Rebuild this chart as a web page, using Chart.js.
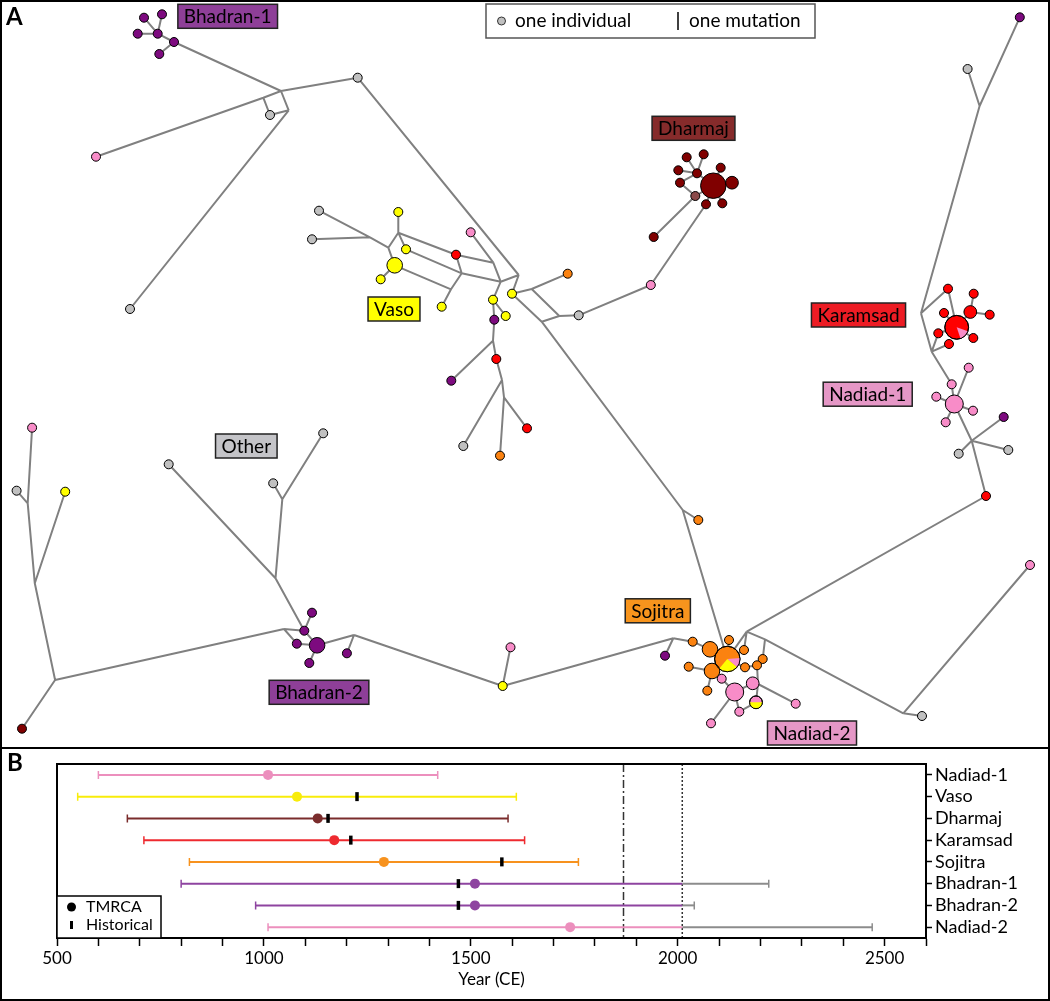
<!DOCTYPE html>
<html>
<head>
<meta charset="utf-8">
<script src="https://cdn.jsdelivr.net/npm/chart.js@4.4.0/dist/chart.umd.min.js"></script>
<style>
html, body { margin: 0; padding: 0; background: #fff; }
#wrap { position: relative; width: 1050px; height: 1001px; overflow: hidden; }
#netA { position: absolute; left: 0; top: 0; }
#timeB { position: absolute; left: 0; top: 750px; }
#divider { position: absolute; left: 0; top: 747px; width: 1050px; height: 2px; background: #000; }
#frame { position: absolute; left: 0; top: 0; width: 1050px; height: 1001px; box-sizing: border-box; border: 2px solid #000; pointer-events: none; }
</style>
</head>
<body>
<div id="wrap">
  <canvas id="netA" width="1050" height="748"></canvas>
  <canvas id="timeB" width="1050" height="249"></canvas>
  <div id="divider"></div>
  <div id="frame"></div>
</div>
<script>
Chart.defaults.font.family = 'Lato, "Liberation Sans", sans-serif';
Chart.defaults.color = '#000';

// ---------- panel A: haplotype network ----------
// id, x, y, population, individuals
var nodes = [
  ['b1a',144,17.7,'B',1], ['b1b',162,14.3,'B',1], ['b1c',137.7,33.7,'B',1], ['b1d',157.7,33.7,'B',1],
  ['b1e',174,42,'B',1], ['b1f',159.3,54,'B',1],
  ['g1',357.7,77.7,'O',1], ['g2',270,115,'O',1], ['p1',96,156.7,'N',1], ['g3',130,309,'O',1],
  ['g4',319,210.7,'O',1], ['g5',312,239.3,'O',1], ['v1',398.3,212,'V',1], ['v2',406,249.3,'V',1],
  ['vB',394.7,265.3,'V',3], ['v3',380.7,279.3,'V',1], ['n1',470.7,232.3,'N',1], ['k1',456,254.7,'K',1],
  ['v4',441.7,306.7,'V',1], ['v5',493,299.7,'V',1], ['v6',512,293.7,'V',1], ['v7',505.7,316,'V',1],
  ['bp1',494.3,319.7,'B',1], ['k2',496.3,359,'K',1], ['bp2',451.3,380.7,'B',1], ['k3',527,428.3,'K',1],
  ['g6',463.3,446,'O',1], ['s1',500,455.7,'S',1], ['s2',567.7,273.7,'S',1], ['g7',578.7,315.3,'O',1],
  ['p2',650.8,285,'N',1],
  ['dB',713.3,185.7,'D',8], ['d1',686.7,157.3,'D',1], ['d2',703.7,154.3,'D',1], ['d3',720.7,167.7,'D',1],
  ['d4',678.3,170.3,'D',1], ['d5',697,173.3,'D',1], ['d6',680,182.7,'D',1], ['d7',732,182.7,'D',2],
  ['d8',695.3,196,'X',1], ['d9',706,204.3,'D',1], ['d10',722.3,203.3,'D',1], ['d11',653.7,237,'D',1],
  ['bp3',1019.8,17.3,'B',1], ['g8',967.6,69,'O',1],
  ['kB',956.7,327.3,'K',7], ['k4',948,288.7,'K',1], ['k5',973.7,293.7,'K',1], ['k6',970.3,312,'K',2],
  ['k7',989.7,314.7,'K',1], ['k8',944,313,'K',1], ['k9',938.3,333.3,'K',1], ['k10',949,344,'K',1],
  ['k11',973.3,338,'K',1],
  ['nB',954.3,404,'N',4], ['n2',951.7,384.3,'N',1], ['n3',968.7,367.7,'N',1], ['n4',936.3,396.7,'N',1],
  ['n5',973,410.7,'N',1], ['n6',945.7,422.3,'N',1], ['bp4',1003.7,417,'B',1], ['g9',958.7,453.7,'O',1],
  ['g10',1008.3,450,'O',1], ['k12',986,496,'K',1],
  ['s3',698.3,520,'S',1], ['sB',727.3,659,'S',8], ['bp5',665,655.7,'B',1], ['s4',692.7,641.7,'S',1],
  ['s5',710,649.3,'S',3], ['s6',729,640,'S',1], ['s7',744,650,'S',1], ['s8',762.7,659,'S',1],
  ['s9',688.7,666.7,'S',1], ['s10',712,671,'S',3], ['s11',745,667.3,'S',1], ['s12',757,665.3,'S',1],
  ['n7',721.7,678.7,'N',1], ['nB2',734.7,692,'N',4], ['n8',752.7,683.3,'N',2], ['s13',707.3,690.7,'S',1],
  ['nv',756,702.3,'N',2], ['n9',739.3,711.7,'N',1], ['n10',711,723.3,'N',1], ['n11',795.7,703.7,'N',1],
  ['g11',922,716,'O',1], ['n12',1030,565,'N',1],
  ['y2',502.7,686,'V',1], ['p3',510.5,647.3,'N',1],
  ['bB2',317.1,645.3,'B',3], ['bp6',312,612.7,'B',1], ['bp7',304.3,630.7,'B',1], ['bp8',296.8,643.7,'B',1],
  ['bp9',309.3,663,'B',1], ['bp10',346.9,653.3,'B',1],
  ['g13',168.7,464.3,'O',1], ['g14',273.2,483.3,'O',1], ['g15',323.2,433.3,'O',1],
  ['p4',32.1,427.7,'N',1], ['g12',16.6,490.7,'O',1], ['y3',65.2,491.7,'V',1], ['dr',22,728.7,'D',1]
];

// median vectors (unsampled branch points)
var junctions = [
  ['j1',281,91], ['j2',288.7,110.3], ['j3',263.3,97.7],
  ['ja',370,237.3], ['jb',388.3,247.7], ['jc',398.3,232.7], ['jd',451,289.3], ['je',461.7,273.3],
  ['jf',493.3,262.7], ['jg',500.7,281.7], ['jh',518.7,275], ['ji',531.7,289], ['jj',559.3,316],
  ['jk',541.7,321.7], ['jl',493,340.7], ['jm',502,380], ['jn',504,397.3],
  ['jq',979.6,106], ['K1',921,313.3], ['K2',931.7,351.7], ['N1',971.7,440.7],
  ['jo',682.7,510], ['S0',673.3,638.3], ['S1',746.7,631.7], ['S2',765,639.3], ['S3',903.3,713.3], ['S4',758,684],
  ['B1',354,635], ['L1',27.7,503.3], ['L2',34.8,583.3], ['L3',55.1,680], ['L4',284,629],
  ['O1',282.3,499.3], ['O2',275.5,578.3]
];

var edges = [
  ['b1a','b1d'], ['b1b','b1d'], ['b1c','b1d'], ['b1d','b1e'], ['b1f','b1e'], ['b1e','j1'], ['j1','g1'],
  ['j1','j2'], ['j1','j3'], ['j3','p1'], ['j3','g2'], ['g2','j2'], ['j2','g3'],
  ['g4','ja'], ['g5','ja'], ['ja','jb'], ['jb','vB'], ['jb','jc'], ['v1','jc'], ['jc','k1'], ['v2','jc'],
  ['v2','je'], ['v3','vB'], ['vB','jd'], ['jd','v4'], ['jd','je'], ['je','jg'], ['k1','je'], ['k1','jf'],
  ['jf','n1'], ['jf','jg'], ['jg','v5'], ['jg','jh'], ['jh','g1'], ['jh','v6'], ['v6','ji'], ['ji','s2'],
  ['ji','jj'], ['jj','g7'], ['v6','jk'], ['jk','jj'], ['v5','v7'], ['v5','bp1'], ['bp1','jl'], ['jl','k2'],
  ['jl','bp2'], ['k2','jm'], ['jm','g6'], ['jm','jn'], ['jn','s1'], ['jn','k3'],
  ['g7','p2'], ['p2','d9'], ['d9','dB'], ['d1','d5'], ['d2','d5'], ['d4','d5'], ['d6','d5'], ['d5','dB'],
  ['d6','d8'], ['d8','dB'], ['d8','d11'], ['d3','dB'], ['d7','dB'], ['d10','dB'],
  ['bp3','jq'], ['g8','jq'], ['jq','K1'],
  ['K1','k4'], ['K1','K2'], ['k4','kB'], ['k5','k6'], ['k6','kB'], ['k6','k7'], ['k8','kB'], ['k9','kB'],
  ['k9','K2'], ['k10','K2'], ['k11','kB'],
  ['K2','n2'], ['n2','nB'], ['n3','nB'], ['n4','nB'], ['n5','nB'], ['n6','nB'], ['nB','N1'], ['N1','bp4'],
  ['N1','g9'], ['N1','g10'], ['N1','k12'], ['k12','S1'],
  ['jk','jo'], ['jo','s3'], ['jo','sB'],
  ['S0','bp5'], ['S0','s4'], ['s4','s5'], ['s5','sB'], ['s6','sB'], ['S1','sB'], ['S1','s7'], ['s7','sB'],
  ['S1','S2'], ['S2','S3'], ['S3','g11'], ['S3','n12'], ['S2','s8'], ['s8','s12'], ['s12','s11'], ['s11','sB'],
  ['s9','s10'], ['s10','sB'], ['s10','s13'], ['n7','s10'], ['n7','nB2'], ['nB2','n10'], ['nB2','n9'],
  ['n9','nv'], ['n8','nB2'], ['s12','S4'], ['S4','nv'], ['S4','n11'],
  ['y2','S0'], ['p3','y2'], ['B1','y2'], ['bB2','B1'], ['bp10','B1'],
  ['p4','L1'], ['g12','L1'], ['L1','L2'], ['y3','L2'], ['L2','L3'], ['L3','dr'], ['L3','L4'], ['L4','bp7'],
  ['L4','bp8'], ['O2','bp7'], ['bp6','bp7'], ['bp7','bB2'], ['bp8','bB2'], ['bp9','bB2'],
  ['g13','O2'], ['g14','O1'], ['g15','O1'], ['O1','O2']
];

// shared haplotypes: id, start angle (deg), extra slices [population, individuals]
var mixed = [
  ['kB', 20, [['N',1]]],
  ['sB', -5, [['N',1], ['V',2]]],
  ['nv', 0, [['V',1]]]
];

var groupLabels = [
  ['Bhadran-1',227.7,16.3,'B'], ['Dharmaj',693.5,128.3,'D'], ['Vaso',394,309,'V'],
  ['Karamsad',858.5,315,'K'], ['Nadiad-1',867.7,394.2,'N'], ['Other',246.3,446,'O'],
  ['Sojitra',657.8,610.8,'S'], ['Bhadran-2',319,692.3,'B'], ['Nadiad-2',812,733,'N']
];

var popColor = { O:'#c0c0c0', B:'#7d0a7f', V:'#ffff00', D:'#800000', K:'#ff0000', S:'#fb8210', N:'#f88cc8', X:'#8b4a4a' };
var boxColor = { O:'#c4c4c8', B:'#8e3f98', V:'#ffff00', D:'#862b2b', K:'#ed1c24', S:'#f7941d', N:'#e597c6' };

function radius(n) { return 4.5 * Math.sqrt(n); }

var where = {};
nodes.forEach(function (n) { where[n[0]] = { x: n[1], y: n[2] }; });
junctions.forEach(function (j) { where[j[0]] = { x: j[1], y: j[2] }; });

var linkData = [];
edges.forEach(function (e) {
  var a = where[e[0]], b = where[e[1]];
  linkData.push({ x: a.x, y: a.y }, { x: b.x, y: b.y }, { x: b.x, y: null });
});

var piePlugin = {
  id: 'pies',
  afterDatasetsDraw: function (chart) {
    var ctx = chart.ctx, sx = chart.scales.x, sy = chart.scales.y;
    mixed.forEach(function (m) {
      var n = nodes.find(function (d) { return d[0] === m[0]; });
      var cx = sx.getPixelForValue(n[1]), cy = sy.getPixelForValue(n[2]), r = radius(n[4]);
      var a = m[1] * Math.PI / 180;
      ctx.save();
      m[2].forEach(function (s) {
        var b = a + 2 * Math.PI * s[1] / n[4];
        ctx.beginPath(); ctx.moveTo(cx, cy); ctx.arc(cx, cy, r, a, b); ctx.closePath();
        ctx.fillStyle = popColor[s[0]]; ctx.fill();
        a = b;
      });
      ctx.beginPath(); ctx.arc(cx, cy, r, 0, 2 * Math.PI);
      ctx.lineWidth = 1; ctx.strokeStyle = '#000'; ctx.stroke();
      ctx.restore();
    });
  }
};

var labelPlugin = {
  id: 'groupLabels',
  afterDraw: function (chart) {
    var ctx = chart.ctx, sx = chart.scales.x, sy = chart.scales.y;
    ctx.save();
    ctx.font = '19px Lato, "Liberation Sans", sans-serif';
    ctx.textAlign = 'center'; ctx.textBaseline = 'middle';
    groupLabels.forEach(function (l) {
      var cx = sx.getPixelForValue(l[1]), cy = sy.getPixelForValue(l[2]);
      var w = ctx.measureText(l[0]).width + 12, h = 24;
      ctx.fillStyle = boxColor[l[3]];
      ctx.fillRect(cx - w / 2, cy - h / 2, w, h);
      ctx.lineWidth = 1.5; ctx.strokeStyle = '#222';
      ctx.strokeRect(cx - w / 2, cy - h / 2, w, h);
      ctx.fillStyle = '#000';
      ctx.fillText(l[0], cx, cy + 1);
    });
    // key box
    ctx.fillStyle = '#fff';
    ctx.fillRect(486, 4, 329, 34);
    ctx.lineWidth = 1.5; ctx.strokeStyle = '#555';
    ctx.strokeRect(486, 4, 329, 34);
    ctx.beginPath(); ctx.arc(501.5, 21, 4, 0, 2 * Math.PI);
    ctx.fillStyle = popColor.O; ctx.fill(); ctx.lineWidth = 1; ctx.strokeStyle = '#333'; ctx.stroke();
    ctx.beginPath(); ctx.moveTo(678, 12); ctx.lineTo(678, 30); ctx.lineWidth = 1.5; ctx.strokeStyle = '#000'; ctx.stroke();
    ctx.fillStyle = '#000'; ctx.textAlign = 'left';
    ctx.font = '19px Lato, "Liberation Sans", sans-serif';
    ctx.fillText('one individual', 515, 21);
    ctx.fillText('one mutation', 689, 21);
    ctx.font = 'bold 24px Lato, "Liberation Sans", sans-serif';
    ctx.fillText('A', 6, 17);
    ctx.restore();
  }
};

new Chart(document.getElementById('netA'), {
  type: 'scatter',
  data: {
    datasets: [
      {
        label: 'haplotypes',
        order: 0,
        data: nodes.map(function (n) { return { x: n[1], y: n[2] }; }),
        pointRadius: nodes.map(function (n) { return radius(n[4]); }),
        pointBackgroundColor: nodes.map(function (n) { return popColor[n[3]]; }),
        pointBorderColor: '#000',
        pointBorderWidth: 1
      },
      {
        type: 'line',
        label: 'links',
        order: 1,
        data: linkData,
        borderColor: '#808080',
        borderWidth: 2,
        pointRadius: 0,
        spanGaps: false,
        tension: 0,
        fill: false
      }
    ]
  },
  options: {
    responsive: false,
    animation: false,
    events: [],
    layout: { padding: 0, autoPadding: false },
    plugins: { legend: { display: false }, tooltip: { enabled: false } },
    scales: {
      x: { type: 'linear', min: 0, max: 1050, display: false },
      y: { type: 'linear', min: 0, max: 748, reverse: true, display: false }
    }
  },
  plugins: [piePlugin, labelPlugin]
});

// ---------- panel B: TMRCA estimates ----------
var rows = ['Nadiad-1', 'Vaso', 'Dharmaj', 'Karamsad', 'Sojitra', 'Bhadran-1', 'Bhadran-2', 'Nadiad-2'];
var ciLow = [600, 550, 670, 710, 820, 800, 980, 1010];
var ciHigh = [1420, 1610, 1590, 1630, 1760, 2220, 2040, 2470];
var tmrca = [1010, 1080, 1130, 1170, 1290, 1510, 1510, 1740];
var historical = [null, 1225, 1155, 1210, 1575, 1470, 1470, null];
var foundingYear = 1869;   // dash-dot line
var samplingYear = 2011;   // dotted line
var rowColor = ['#ec8fbd', '#f8ec0a', '#7a2c2c', '#ee2a2f', '#f7921e', '#8e44a0', '#8e44a0', '#ec8fbd'];
var censorGray = '#8c8c8c';

var bSets = [];
rows.forEach(function (r, i) {
  bSets.push({
    type: 'line', order: 5, data: [{ x: ciLow[i], y: r }, { x: Math.min(ciHigh[i], samplingYear), y: r }],
    borderColor: rowColor[i], borderWidth: 2, pointRadius: 0
  });
  if (ciHigh[i] > samplingYear) {
    bSets.push({
      type: 'line', order: 5, data: [{ x: samplingYear, y: r }, { x: ciHigh[i], y: r }],
      borderColor: censorGray, borderWidth: 2, pointRadius: 0
    });
  }
});
var capPts = [], capCols = [];
rows.forEach(function (r, i) {
  capPts.push({ x: ciLow[i], y: r }, { x: ciHigh[i], y: r });
  capCols.push(rowColor[i], ciHigh[i] > samplingYear ? censorGray : rowColor[i]);
});
bSets.push({
  label: 'caps', order: 4, data: capPts, pointStyle: 'line', pointRotation: 90,
  pointRadius: 4, pointBorderColor: capCols, pointBorderWidth: 1.5
});
bSets.push({
  label: 'Historical', order: 3,
  data: rows.map(function (r, i) { return { x: historical[i], y: r }; }).filter(function (p) { return p.x !== null; }),
  pointStyle: 'line', pointRotation: 90, pointRadius: 4.5, pointBorderColor: '#000', pointBorderWidth: 3.5
});
bSets.push({
  label: 'TMRCA', order: 2,
  data: rows.map(function (r, i) { return { x: tmrca[i], y: r }; }),
  pointRadius: 5, pointBackgroundColor: rowColor, pointBorderWidth: 0
});

var refLinePlugin = {
  id: 'refLines',
  beforeDatasetsDraw: function (chart) {
    var ctx = chart.ctx, a = chart.chartArea, sx = chart.scales.x;
    ctx.save();
    ctx.strokeStyle = '#333'; ctx.lineWidth = 1.5;
    ctx.setLineDash([8, 3, 2, 3]);
    var x1 = sx.getPixelForValue(foundingYear);
    ctx.beginPath(); ctx.moveTo(x1, a.top); ctx.lineTo(x1, a.bottom); ctx.stroke();
    ctx.setLineDash([2, 2]);
    var x2 = sx.getPixelForValue(samplingYear);
    ctx.beginPath(); ctx.moveTo(x2, a.top); ctx.lineTo(x2, a.bottom); ctx.stroke();
    ctx.restore();
  },
  afterDraw: function (chart) {
    var ctx = chart.ctx, a = chart.chartArea;
    ctx.save();
    ctx.lineWidth = 2; ctx.strokeStyle = '#000';
    ctx.strokeRect(a.left, a.top, a.right - a.left, a.bottom - a.top);
    // key box
    var bx = a.left, by = a.bottom - 42;
    ctx.fillStyle = '#fff'; ctx.fillRect(bx, by, 104, 42);
    ctx.lineWidth = 1.5; ctx.strokeRect(bx, by, 104, 42);
    ctx.fillStyle = '#000';
    ctx.beginPath(); ctx.arc(bx + 14.5, by + 11, 4.5, 0, 2 * Math.PI); ctx.fill();
    ctx.fillRect(bx + 13, by + 25, 3, 8);
    ctx.font = '16px Lato, "Liberation Sans", sans-serif';
    ctx.textBaseline = 'middle'; ctx.textAlign = 'left';
    ctx.fillText('TMRCA', bx + 29, by + 11);
    ctx.fillText('Historical', bx + 29, by + 29);
    ctx.font = 'bold 24px Lato, "Liberation Sans", sans-serif';
    ctx.fillText('B', 7, 13);
    ctx.restore();
  }
};

new Chart(document.getElementById('timeB'), {
  type: 'scatter',
  data: { datasets: bSets },
  options: {
    responsive: false,
    animation: false,
    events: [],
    layout: { padding: { left: 57, top: 14, right: 0, bottom: 0 }, autoPadding: false },
    plugins: { legend: { display: false }, tooltip: { enabled: false } },
    scales: {
      x: {
        type: 'linear', position: 'bottom', min: 500, max: 2600,
        afterFit: function (s) { s.height = 61; },
        ticks: {
          stepSize: 100, autoSkip: false, maxRotation: 0, padding: 2, font: { size: 17 },
          callback: function (v) { return v % 500 === 0 ? String(v) : ''; }
        },
        grid: { drawOnChartArea: false, drawTicks: true, tickLength: 8, tickWidth: 1.5, tickColor: '#000' },
        border: { color: '#000', width: 2 },
        title: { display: true, text: 'Year (CE)', font: { size: 17 }, padding: { top: 0, bottom: 9 } }
      },
      y: {
        type: 'category', labels: rows, position: 'right', offset: true,
        afterFit: function (s) { s.width = 124; },
        ticks: { font: { size: 18 }, padding: 3, autoSkip: false },
        grid: { drawOnChartArea: false, offset: false, tickLength: 6, tickWidth: 1.5, tickColor: '#000' },
        border: { color: '#000', width: 2 }
      }
    }
  },
  plugins: [refLinePlugin]
});
</script>
</body>
</html>
